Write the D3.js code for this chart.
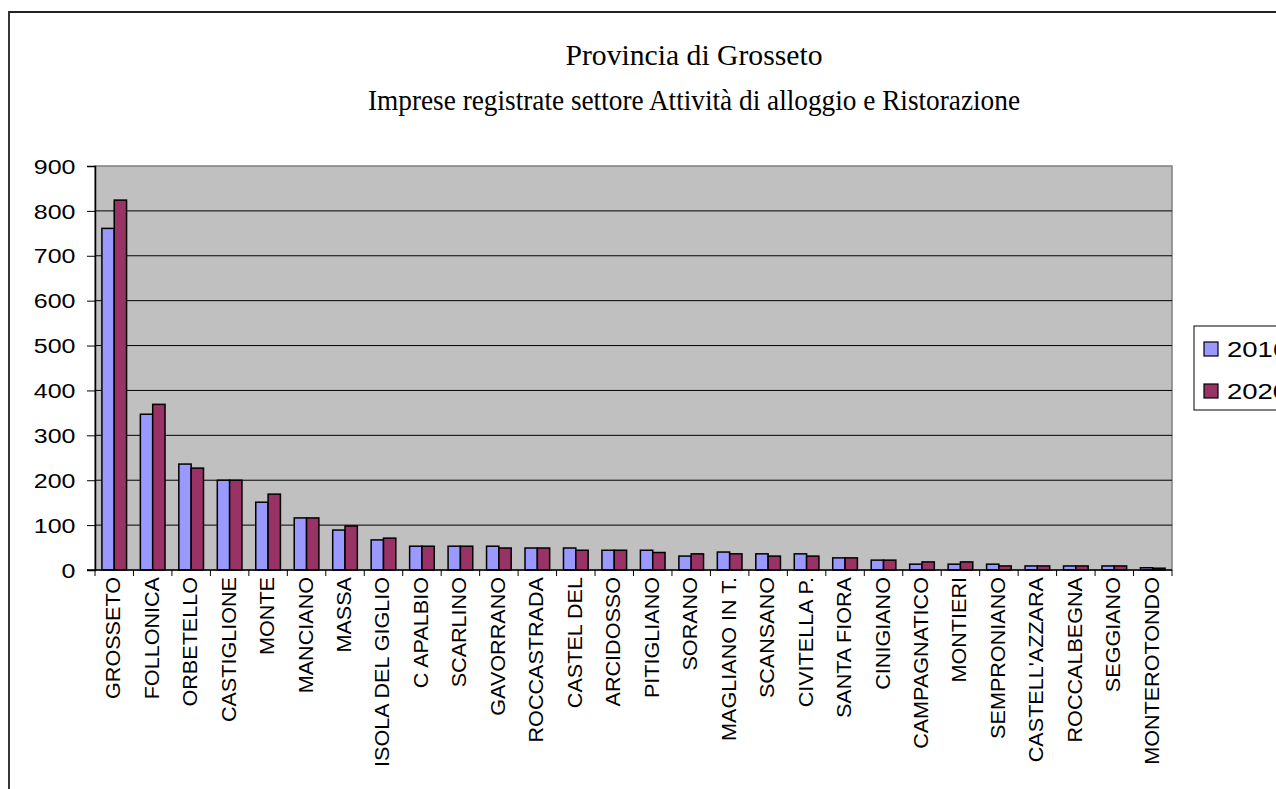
<!DOCTYPE html>
<html>
<head>
<meta charset="utf-8">
<script src="https://cdn.jsdelivr.net/npm/d3@7/dist/d3.min.js"></script>
<style>
  body { margin: 0; background: #fff; }
  svg { display: block; }
</style>
</head>
<body>
<div id="chart"></div>
<script>
// comuni della provincia
var comuni = ["GROSSETO","FOLLONICA","ORBETELLO","CASTIGLIONE","MONTE","MANCIANO","MASSA",
  "ISOLA DEL GIGLIO","C APALBIO","SCARLINO","GAVORRANO","ROCCASTRADA","CASTEL DEL","ARCIDOSSO",
  "PITIGLIANO","SORANO","MAGLIANO IN T.","SCANSANO","CIVITELLA P.","SANTA FIORA","CINIGIANO",
  "CAMPAGNATICO","MONTIERI","SEMPRONIANO","CASTELL'AZZARA","ROCCALBEGNA","SEGGIANO","MONTEROTONDO"];

var anni = ["2016","2020"];

var imprese2016 = [761,347,236,200,151,116,89,67,53,53,53,49,49,44,44,31,40,36,36,27,22,13,13,13,9,9,9,5];
var imprese2020 = [824,369,227,200,169,116,98,71,53,53,49,49,44,44,39,36,36,31,31,27,22,18,18,9,9,9,9,4];

var yTicks = [0,100,200,300,400,500,600,700,800,900];

var colori = {"2016":"#9999FF","2020":"#993366"};

var W = 1276, H = 789;
var pLeft = 95, pRight = 1172, pTop = 166, pBottom = 570;

var svg = d3.select("#chart").append("svg")
  .attr("width", W)
  .attr("height", H);

// cornice
svg.append("path")
  .attr("d", "M9," + H + "V12H" + W)
  .attr("fill", "none")
  .attr("stroke", "#222")
  .attr("stroke-width", 1.8);

// titolo
var titolo = svg.append("g")
  .attr("font-family", "'Liberation Serif','Times New Roman',serif")
  .attr("font-size", 30)
  .attr("text-anchor", "middle")
  .attr("fill", "#000");
titolo.append("text").attr("x", 694).attr("y", 65)
  .attr("textLength", 257).attr("lengthAdjust", "spacingAndGlyphs")
  .text("Provincia di Grosseto");
titolo.append("text").attr("x", 694).attr("y", 110)
  .attr("textLength", 652).attr("lengthAdjust", "spacingAndGlyphs")
  .text("Imprese registrate settore Attività di alloggio e Ristorazione");

var x0 = d3.scaleBand().domain(comuni).range([pLeft, pRight]).padding(0);
var x1 = d3.scaleBand().domain(anni).range([0, x0.bandwidth()]).paddingInner(0).paddingOuter(0.56);
var y = d3.scaleLinear().domain([0, 900]).range([pBottom, pTop]);

// area del grafico
svg.append("rect")
  .attr("x", pLeft).attr("y", pTop)
  .attr("width", pRight - pLeft).attr("height", pBottom - pTop)
  .attr("fill", "#C0C0C0")
  .attr("stroke", "#808080")
  .attr("stroke-width", 1.5);

svg.append("g").selectAll("line")
  .data(yTicks.filter(function(d){ return d > 0 && d < 900; }))
  .enter().append("line")
  .attr("x1", pLeft).attr("x2", pRight)
  .attr("y1", function(d){ return y(d); })
  .attr("y2", function(d){ return y(d); })
  .attr("stroke", "#000")
  .attr("stroke-width", 1);

// barre
var dati = comuni.map(function(c, i) {
  return {comune: c, valori: [{anno: "2016", v: imprese2016[i]}, {anno: "2020", v: imprese2020[i]}]};
});

var gruppi = svg.append("g").selectAll("g")
  .data(dati)
  .enter().append("g")
  .attr("transform", function(d){ return "translate(" + x0(d.comune) + ",0)"; });

gruppi.selectAll("rect")
  .data(function(d){ return d.valori; })
  .enter().append("rect")
  .attr("x", function(d){ return x1(d.anno); })
  .attr("y", function(d){ return y(d.v); })
  .attr("width", x1.bandwidth())
  .attr("height", function(d){ return y(0) - y(d.v); })
  .attr("fill", function(d){ return colori[d.anno]; })
  .attr("stroke", "#000")
  .attr("stroke-width", 1.5);

// asse y
var assey = svg.append("g")
  .attr("transform", "translate(" + pLeft + ",0)")
  .call(d3.axisLeft(y).tickValues(yTicks).tickSize(8).tickPadding(8).tickFormat(d3.format("d")));
assey.select(".domain").attr("stroke", "#000").attr("stroke-width", 1.5);
assey.selectAll(".tick line").attr("stroke", "#000").attr("stroke-width", 1);
assey.selectAll(".tick text")
  .attr("font-family", "'Liberation Sans',Arial,sans-serif")
  .attr("font-size", 20.5)
  .attr("fill", "#000")
  .attr("dy", "0.35em")
  .attr("transform", "scale(1.22,1)");

// asse x
svg.append("line")
  .attr("x1", pLeft - 8).attr("x2", pRight)
  .attr("y1", pBottom).attr("y2", pBottom)
  .attr("stroke", "#000").attr("stroke-width", 1.5);

var confini = comuni.map(function(c){ return x0(c); }).concat([pRight]);
svg.append("g").selectAll("line")
  .data(confini)
  .enter().append("line")
  .attr("x1", function(d){ return d; }).attr("x2", function(d){ return d; })
  .attr("y1", pBottom).attr("y2", pBottom + 6)
  .attr("stroke", "#000").attr("stroke-width", 1);

svg.append("g").selectAll("text")
  .data(comuni)
  .enter().append("text")
  .attr("transform", function(d){
    return "translate(" + (x0(d) + x0.bandwidth() / 2 + 6) + "," + (pBottom + 7) + ") rotate(-90) scale(1.08,1)";
  })
  .attr("text-anchor", "end")
  .attr("font-family", "'Liberation Sans',Arial,sans-serif")
  .attr("font-size", 20)
  .attr("fill", "#000")
  .text(function(d){ return d; });

// legenda
var legenda = svg.append("g");
legenda.append("rect")
  .attr("x", 1194).attr("y", 326)
  .attr("width", 120).attr("height", 84)
  .attr("fill", "#fff")
  .attr("stroke", "#000")
  .attr("stroke-width", 1);

var voci = legenda.selectAll("g")
  .data(anni)
  .enter().append("g")
  .attr("transform", function(d, i){ return "translate(1204," + (342 + i * 42) + ")"; });

voci.append("rect")
  .attr("width", 14).attr("height", 14)
  .attr("fill", function(d){ return colori[d]; })
  .attr("stroke", "#000")
  .attr("stroke-width", 1.2);

voci.append("text")
  .attr("transform", "translate(23,15) scale(1.25,1)")
  .attr("font-family", "'Liberation Sans',Arial,sans-serif")
  .attr("font-size", 22)
  .attr("fill", "#000")
  .text(function(d){ return d; });
</script>
</body>
</html>
